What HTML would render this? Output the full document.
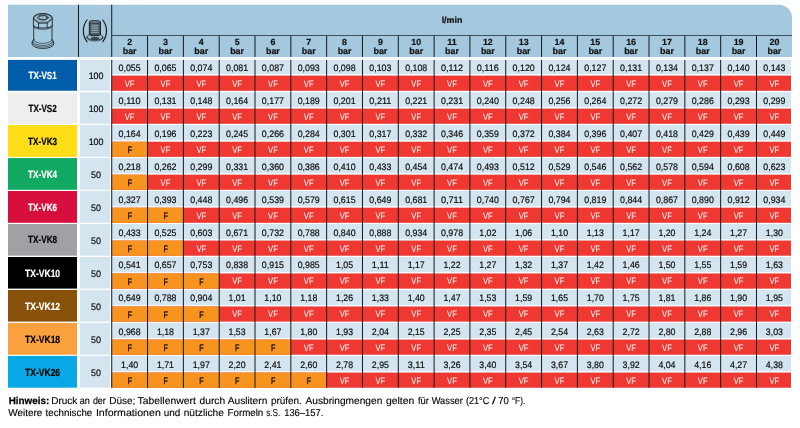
<!DOCTYPE html>
<html lang="de"><head><meta charset="utf-8"><title>TX-VS / TX-VK l/min</title>
<style>html,body{margin:0;padding:0;background:#fff}body{width:800px;height:428px;overflow:hidden}svg{display:block}text{font-family:"Liberation Sans", sans-serif;text-rendering:geometricPrecision}.b{font-weight:700}.v{font-size:9.4px;fill:#0a0a0a;stroke:#0a0a0a;stroke-width:.18px}.s{font-size:9.3px}.n{font-size:10.4px;font-weight:700}.h{font-size:8.9px;font-weight:700;fill:#111;stroke:#111;stroke-width:.2px}.f{font-size:10px;fill:#000;stroke:#000;stroke-width:.12px}.f .b{stroke-width:.25px}</style></head><body>
<svg width="800" height="428" viewBox="0 0 800 428">
<rect width="800" height="428" fill="#fff"/>
<path d="M8.0 4.75H779.0A13 13 0 0 1 792.0 17.75V56.9H8.0Z" fill="#A4C8DE"/>
<rect x="8.0" y="59.90" width="69.00" height="30.85" fill="#005DA9"/>
<rect x="80" y="59.90" width="30.2" height="30.85" fill="#D4E5F0"/>
<rect x="111.73" y="59.90" width="679.27" height="30.85" fill="#D4E5F0"/>
<rect x="111.73" y="74.05" width="679.27" height="1.7" fill="#F5F9FC"/>
<rect x="111.73" y="75.65" width="679.27" height="15.1" fill="#EF3831"/>
<rect x="8.0" y="92.30" width="69.00" height="31.45" fill="#EEEEEE"/>
<rect x="80" y="92.30" width="30.2" height="31.45" fill="#D4E5F0"/>
<rect x="111.73" y="92.30" width="679.27" height="31.45" fill="#D4E5F0"/>
<rect x="111.73" y="107.05" width="679.27" height="1.7" fill="#F5F9FC"/>
<rect x="111.73" y="108.65" width="679.27" height="15.1" fill="#EF3831"/>
<rect x="8.0" y="125.00" width="69.00" height="31.85" fill="#FFDD17"/>
<rect x="80" y="125.00" width="30.2" height="31.85" fill="#D4E5F0"/>
<rect x="111.73" y="125.00" width="679.27" height="31.85" fill="#D4E5F0"/>
<rect x="111.73" y="140.15" width="679.27" height="1.7" fill="#F5F9FC"/>
<rect x="111.73" y="141.75" width="679.27" height="15.1" fill="#EF3831"/>
<rect x="111.73" y="141.75" width="35.82" height="15.1" fill="#F7931F"/>
<rect x="8.0" y="158.05" width="69.00" height="31.75" fill="#12A963"/>
<rect x="80" y="158.05" width="30.2" height="31.75" fill="#D4E5F0"/>
<rect x="111.73" y="158.05" width="679.27" height="31.75" fill="#D4E5F0"/>
<rect x="111.73" y="173.10" width="679.27" height="1.7" fill="#F5F9FC"/>
<rect x="111.73" y="174.70" width="679.27" height="15.1" fill="#EF3831"/>
<rect x="111.73" y="174.70" width="35.82" height="15.1" fill="#F7931F"/>
<rect x="8.0" y="191.00" width="69.00" height="31.80" fill="#D60F3C"/>
<rect x="80" y="191.00" width="30.2" height="31.80" fill="#D4E5F0"/>
<rect x="111.73" y="191.00" width="679.27" height="31.80" fill="#D4E5F0"/>
<rect x="111.73" y="206.10" width="679.27" height="1.7" fill="#F5F9FC"/>
<rect x="111.73" y="207.70" width="679.27" height="15.1" fill="#EF3831"/>
<rect x="111.73" y="207.70" width="71.64" height="15.1" fill="#F7931F"/>
<rect x="8.0" y="224.05" width="69.00" height="31.65" fill="#9FA1A4"/>
<rect x="80" y="224.05" width="30.2" height="31.65" fill="#D4E5F0"/>
<rect x="111.73" y="224.05" width="679.27" height="31.65" fill="#D4E5F0"/>
<rect x="111.73" y="239.00" width="679.27" height="1.7" fill="#F5F9FC"/>
<rect x="111.73" y="240.60" width="679.27" height="15.1" fill="#EF3831"/>
<rect x="111.73" y="240.60" width="71.64" height="15.1" fill="#F7931F"/>
<rect x="8.0" y="257.00" width="69.00" height="31.60" fill="#000000"/>
<rect x="80" y="257.00" width="30.2" height="31.60" fill="#D4E5F0"/>
<rect x="111.73" y="257.00" width="679.27" height="31.60" fill="#D4E5F0"/>
<rect x="111.73" y="271.90" width="679.27" height="1.7" fill="#F5F9FC"/>
<rect x="111.73" y="273.50" width="679.27" height="15.1" fill="#EF3831"/>
<rect x="111.73" y="273.50" width="107.46" height="15.1" fill="#F7931F"/>
<rect x="8.0" y="290.00" width="69.00" height="31.60" fill="#88510A"/>
<rect x="80" y="290.00" width="30.2" height="31.60" fill="#D4E5F0"/>
<rect x="111.73" y="290.00" width="679.27" height="31.60" fill="#D4E5F0"/>
<rect x="111.73" y="304.90" width="679.27" height="1.7" fill="#F5F9FC"/>
<rect x="111.73" y="306.50" width="679.27" height="15.1" fill="#EF3831"/>
<rect x="111.73" y="306.50" width="107.46" height="15.1" fill="#F7931F"/>
<rect x="8.0" y="322.95" width="69.00" height="31.75" fill="#F9A03F"/>
<rect x="80" y="322.95" width="30.2" height="31.75" fill="#D4E5F0"/>
<rect x="111.73" y="322.95" width="679.27" height="31.75" fill="#D4E5F0"/>
<rect x="111.73" y="338.00" width="679.27" height="1.7" fill="#F5F9FC"/>
<rect x="111.73" y="339.60" width="679.27" height="15.1" fill="#EF3831"/>
<rect x="111.73" y="339.60" width="179.10" height="15.1" fill="#F7931F"/>
<rect x="8.0" y="355.90" width="69.00" height="31.80" fill="#07A8E5"/>
<rect x="80" y="355.90" width="30.2" height="31.80" fill="#D4E5F0"/>
<rect x="111.73" y="355.90" width="679.27" height="31.80" fill="#D4E5F0"/>
<rect x="111.73" y="371.00" width="679.27" height="1.7" fill="#F5F9FC"/>
<rect x="111.73" y="372.60" width="679.27" height="15.1" fill="#EF3831"/>
<rect x="111.73" y="372.60" width="214.92" height="15.1" fill="#F7931F"/>
<g stroke="#141a1f" stroke-width="1.0" fill="none">
<path d="M78.5 4.75V56.9M111.73 4.75V56.9"/>
<path d="M111.73 35.5H792.0" stroke="#2c3a45" stroke-width="0.85"/>
<path d="M147.55 35.5V56.9M183.37 35.5V56.9M219.19 35.5V56.9M255.01 35.5V56.9M290.83 35.5V56.9M326.65 35.5V56.9M362.47 35.5V56.9M398.29 35.5V56.9M434.11 35.5V56.9M469.93 35.5V56.9M505.75 35.5V56.9M541.57 35.5V56.9M577.39 35.5V56.9M613.21 35.5V56.9M649.03 35.5V56.9M684.85 35.5V56.9M720.67 35.5V56.9M756.49 35.5V56.9"/>
<path d="M111.73 59.9V387.70M147.55 59.9V387.70M183.37 59.9V387.70M219.19 59.9V387.70M255.01 59.9V387.70M290.83 59.9V387.70M326.65 59.9V387.70M362.47 59.9V387.70M398.29 59.9V387.70M434.11 59.9V387.70M469.93 59.9V387.70M505.75 59.9V387.70M541.57 59.9V387.70M577.39 59.9V387.70M613.21 59.9V387.70M649.03 59.9V387.70M684.85 59.9V387.70M720.67 59.9V387.70M756.49 59.9V387.70"/>
</g>
<text class="h" x="452" y="23" text-anchor="middle">l/min</text>
<text class="h" x="129.64" y="45" text-anchor="middle">2</text>
<text class="h" x="129.64" y="54" text-anchor="middle">bar</text>
<text class="h" x="165.46" y="45" text-anchor="middle">3</text>
<text class="h" x="165.46" y="54" text-anchor="middle">bar</text>
<text class="h" x="201.28" y="45" text-anchor="middle">4</text>
<text class="h" x="201.28" y="54" text-anchor="middle">bar</text>
<text class="h" x="237.10" y="45" text-anchor="middle">5</text>
<text class="h" x="237.10" y="54" text-anchor="middle">bar</text>
<text class="h" x="272.92" y="45" text-anchor="middle">6</text>
<text class="h" x="272.92" y="54" text-anchor="middle">bar</text>
<text class="h" x="308.74" y="45" text-anchor="middle">7</text>
<text class="h" x="308.74" y="54" text-anchor="middle">bar</text>
<text class="h" x="344.56" y="45" text-anchor="middle">8</text>
<text class="h" x="344.56" y="54" text-anchor="middle">bar</text>
<text class="h" x="380.38" y="45" text-anchor="middle">9</text>
<text class="h" x="380.38" y="54" text-anchor="middle">bar</text>
<text class="h" x="416.20" y="45" text-anchor="middle">10</text>
<text class="h" x="416.20" y="54" text-anchor="middle">bar</text>
<text class="h" x="452.02" y="45" text-anchor="middle">11</text>
<text class="h" x="452.02" y="54" text-anchor="middle">bar</text>
<text class="h" x="487.84" y="45" text-anchor="middle">12</text>
<text class="h" x="487.84" y="54" text-anchor="middle">bar</text>
<text class="h" x="523.66" y="45" text-anchor="middle">13</text>
<text class="h" x="523.66" y="54" text-anchor="middle">bar</text>
<text class="h" x="559.48" y="45" text-anchor="middle">14</text>
<text class="h" x="559.48" y="54" text-anchor="middle">bar</text>
<text class="h" x="595.30" y="45" text-anchor="middle">15</text>
<text class="h" x="595.30" y="54" text-anchor="middle">bar</text>
<text class="h" x="631.12" y="45" text-anchor="middle">16</text>
<text class="h" x="631.12" y="54" text-anchor="middle">bar</text>
<text class="h" x="666.94" y="45" text-anchor="middle">17</text>
<text class="h" x="666.94" y="54" text-anchor="middle">bar</text>
<text class="h" x="702.76" y="45" text-anchor="middle">18</text>
<text class="h" x="702.76" y="54" text-anchor="middle">bar</text>
<text class="h" x="738.58" y="45" text-anchor="middle">19</text>
<text class="h" x="738.58" y="54" text-anchor="middle">bar</text>
<text class="h" x="774.40" y="45" text-anchor="middle">20</text>
<text class="h" x="774.40" y="54" text-anchor="middle">bar</text>
<text class="n" x="42.6" y="79.45" text-anchor="middle" fill="#fff" stroke="#fff" stroke-width="0.2" textLength="28.2" lengthAdjust="spacingAndGlyphs">TX-VS1</text>
<text class="v" x="96.1" y="79.15" text-anchor="middle" textLength="14.9" lengthAdjust="spacingAndGlyphs">100</text>
<text class="v" x="129.64" y="70.60" text-anchor="middle" textLength="22.1" lengthAdjust="spacingAndGlyphs">0,055</text>
<text class="s" x="129.64" y="86.60" text-anchor="middle" fill="#fff" textLength="9.8" lengthAdjust="spacingAndGlyphs">VF</text>
<text class="v" x="165.46" y="70.60" text-anchor="middle" textLength="22.1" lengthAdjust="spacingAndGlyphs">0,065</text>
<text class="s" x="165.46" y="86.60" text-anchor="middle" fill="#fff" textLength="9.8" lengthAdjust="spacingAndGlyphs">VF</text>
<text class="v" x="201.28" y="70.60" text-anchor="middle" textLength="22.1" lengthAdjust="spacingAndGlyphs">0,074</text>
<text class="s" x="201.28" y="86.60" text-anchor="middle" fill="#fff" textLength="9.8" lengthAdjust="spacingAndGlyphs">VF</text>
<text class="v" x="237.10" y="70.60" text-anchor="middle" textLength="22.1" lengthAdjust="spacingAndGlyphs">0,081</text>
<text class="s" x="237.10" y="86.60" text-anchor="middle" fill="#fff" textLength="9.8" lengthAdjust="spacingAndGlyphs">VF</text>
<text class="v" x="272.92" y="70.60" text-anchor="middle" textLength="22.1" lengthAdjust="spacingAndGlyphs">0,087</text>
<text class="s" x="272.92" y="86.60" text-anchor="middle" fill="#fff" textLength="9.8" lengthAdjust="spacingAndGlyphs">VF</text>
<text class="v" x="308.74" y="70.60" text-anchor="middle" textLength="22.1" lengthAdjust="spacingAndGlyphs">0,093</text>
<text class="s" x="308.74" y="86.60" text-anchor="middle" fill="#fff" textLength="9.8" lengthAdjust="spacingAndGlyphs">VF</text>
<text class="v" x="344.56" y="70.60" text-anchor="middle" textLength="22.1" lengthAdjust="spacingAndGlyphs">0,098</text>
<text class="s" x="344.56" y="86.60" text-anchor="middle" fill="#fff" textLength="9.8" lengthAdjust="spacingAndGlyphs">VF</text>
<text class="v" x="380.38" y="70.60" text-anchor="middle" textLength="22.1" lengthAdjust="spacingAndGlyphs">0,103</text>
<text class="s" x="380.38" y="86.60" text-anchor="middle" fill="#fff" textLength="9.8" lengthAdjust="spacingAndGlyphs">VF</text>
<text class="v" x="416.20" y="70.60" text-anchor="middle" textLength="22.1" lengthAdjust="spacingAndGlyphs">0,108</text>
<text class="s" x="416.20" y="86.60" text-anchor="middle" fill="#fff" textLength="9.8" lengthAdjust="spacingAndGlyphs">VF</text>
<text class="v" x="452.02" y="70.60" text-anchor="middle" textLength="22.1" lengthAdjust="spacingAndGlyphs">0,112</text>
<text class="s" x="452.02" y="86.60" text-anchor="middle" fill="#fff" textLength="9.8" lengthAdjust="spacingAndGlyphs">VF</text>
<text class="v" x="487.84" y="70.60" text-anchor="middle" textLength="22.1" lengthAdjust="spacingAndGlyphs">0,116</text>
<text class="s" x="487.84" y="86.60" text-anchor="middle" fill="#fff" textLength="9.8" lengthAdjust="spacingAndGlyphs">VF</text>
<text class="v" x="523.66" y="70.60" text-anchor="middle" textLength="22.1" lengthAdjust="spacingAndGlyphs">0,120</text>
<text class="s" x="523.66" y="86.60" text-anchor="middle" fill="#fff" textLength="9.8" lengthAdjust="spacingAndGlyphs">VF</text>
<text class="v" x="559.48" y="70.60" text-anchor="middle" textLength="22.1" lengthAdjust="spacingAndGlyphs">0,124</text>
<text class="s" x="559.48" y="86.60" text-anchor="middle" fill="#fff" textLength="9.8" lengthAdjust="spacingAndGlyphs">VF</text>
<text class="v" x="595.30" y="70.60" text-anchor="middle" textLength="22.1" lengthAdjust="spacingAndGlyphs">0,127</text>
<text class="s" x="595.30" y="86.60" text-anchor="middle" fill="#fff" textLength="9.8" lengthAdjust="spacingAndGlyphs">VF</text>
<text class="v" x="631.12" y="70.60" text-anchor="middle" textLength="22.1" lengthAdjust="spacingAndGlyphs">0,131</text>
<text class="s" x="631.12" y="86.60" text-anchor="middle" fill="#fff" textLength="9.8" lengthAdjust="spacingAndGlyphs">VF</text>
<text class="v" x="666.94" y="70.60" text-anchor="middle" textLength="22.1" lengthAdjust="spacingAndGlyphs">0,134</text>
<text class="s" x="666.94" y="86.60" text-anchor="middle" fill="#fff" textLength="9.8" lengthAdjust="spacingAndGlyphs">VF</text>
<text class="v" x="702.76" y="70.60" text-anchor="middle" textLength="22.1" lengthAdjust="spacingAndGlyphs">0,137</text>
<text class="s" x="702.76" y="86.60" text-anchor="middle" fill="#fff" textLength="9.8" lengthAdjust="spacingAndGlyphs">VF</text>
<text class="v" x="738.58" y="70.60" text-anchor="middle" textLength="22.1" lengthAdjust="spacingAndGlyphs">0,140</text>
<text class="s" x="738.58" y="86.60" text-anchor="middle" fill="#fff" textLength="9.8" lengthAdjust="spacingAndGlyphs">VF</text>
<text class="v" x="774.40" y="70.60" text-anchor="middle" textLength="22.1" lengthAdjust="spacingAndGlyphs">0,143</text>
<text class="s" x="774.40" y="86.60" text-anchor="middle" fill="#fff" textLength="9.8" lengthAdjust="spacingAndGlyphs">VF</text>
<text class="n" x="42.6" y="112.45" text-anchor="middle" fill="#000" stroke="#000" stroke-width="0.2" textLength="28.2" lengthAdjust="spacingAndGlyphs">TX-VS2</text>
<text class="v" x="96.1" y="112.15" text-anchor="middle" textLength="14.9" lengthAdjust="spacingAndGlyphs">100</text>
<text class="v" x="129.64" y="103.60" text-anchor="middle" textLength="22.1" lengthAdjust="spacingAndGlyphs">0,110</text>
<text class="s" x="129.64" y="119.60" text-anchor="middle" fill="#fff" textLength="9.8" lengthAdjust="spacingAndGlyphs">VF</text>
<text class="v" x="165.46" y="103.60" text-anchor="middle" textLength="22.1" lengthAdjust="spacingAndGlyphs">0,131</text>
<text class="s" x="165.46" y="119.60" text-anchor="middle" fill="#fff" textLength="9.8" lengthAdjust="spacingAndGlyphs">VF</text>
<text class="v" x="201.28" y="103.60" text-anchor="middle" textLength="22.1" lengthAdjust="spacingAndGlyphs">0,148</text>
<text class="s" x="201.28" y="119.60" text-anchor="middle" fill="#fff" textLength="9.8" lengthAdjust="spacingAndGlyphs">VF</text>
<text class="v" x="237.10" y="103.60" text-anchor="middle" textLength="22.1" lengthAdjust="spacingAndGlyphs">0,164</text>
<text class="s" x="237.10" y="119.60" text-anchor="middle" fill="#fff" textLength="9.8" lengthAdjust="spacingAndGlyphs">VF</text>
<text class="v" x="272.92" y="103.60" text-anchor="middle" textLength="22.1" lengthAdjust="spacingAndGlyphs">0,177</text>
<text class="s" x="272.92" y="119.60" text-anchor="middle" fill="#fff" textLength="9.8" lengthAdjust="spacingAndGlyphs">VF</text>
<text class="v" x="308.74" y="103.60" text-anchor="middle" textLength="22.1" lengthAdjust="spacingAndGlyphs">0,189</text>
<text class="s" x="308.74" y="119.60" text-anchor="middle" fill="#fff" textLength="9.8" lengthAdjust="spacingAndGlyphs">VF</text>
<text class="v" x="344.56" y="103.60" text-anchor="middle" textLength="22.1" lengthAdjust="spacingAndGlyphs">0,201</text>
<text class="s" x="344.56" y="119.60" text-anchor="middle" fill="#fff" textLength="9.8" lengthAdjust="spacingAndGlyphs">VF</text>
<text class="v" x="380.38" y="103.60" text-anchor="middle" textLength="22.1" lengthAdjust="spacingAndGlyphs">0,211</text>
<text class="s" x="380.38" y="119.60" text-anchor="middle" fill="#fff" textLength="9.8" lengthAdjust="spacingAndGlyphs">VF</text>
<text class="v" x="416.20" y="103.60" text-anchor="middle" textLength="22.1" lengthAdjust="spacingAndGlyphs">0,221</text>
<text class="s" x="416.20" y="119.60" text-anchor="middle" fill="#fff" textLength="9.8" lengthAdjust="spacingAndGlyphs">VF</text>
<text class="v" x="452.02" y="103.60" text-anchor="middle" textLength="22.1" lengthAdjust="spacingAndGlyphs">0,231</text>
<text class="s" x="452.02" y="119.60" text-anchor="middle" fill="#fff" textLength="9.8" lengthAdjust="spacingAndGlyphs">VF</text>
<text class="v" x="487.84" y="103.60" text-anchor="middle" textLength="22.1" lengthAdjust="spacingAndGlyphs">0,240</text>
<text class="s" x="487.84" y="119.60" text-anchor="middle" fill="#fff" textLength="9.8" lengthAdjust="spacingAndGlyphs">VF</text>
<text class="v" x="523.66" y="103.60" text-anchor="middle" textLength="22.1" lengthAdjust="spacingAndGlyphs">0,248</text>
<text class="s" x="523.66" y="119.60" text-anchor="middle" fill="#fff" textLength="9.8" lengthAdjust="spacingAndGlyphs">VF</text>
<text class="v" x="559.48" y="103.60" text-anchor="middle" textLength="22.1" lengthAdjust="spacingAndGlyphs">0,256</text>
<text class="s" x="559.48" y="119.60" text-anchor="middle" fill="#fff" textLength="9.8" lengthAdjust="spacingAndGlyphs">VF</text>
<text class="v" x="595.30" y="103.60" text-anchor="middle" textLength="22.1" lengthAdjust="spacingAndGlyphs">0,264</text>
<text class="s" x="595.30" y="119.60" text-anchor="middle" fill="#fff" textLength="9.8" lengthAdjust="spacingAndGlyphs">VF</text>
<text class="v" x="631.12" y="103.60" text-anchor="middle" textLength="22.1" lengthAdjust="spacingAndGlyphs">0,272</text>
<text class="s" x="631.12" y="119.60" text-anchor="middle" fill="#fff" textLength="9.8" lengthAdjust="spacingAndGlyphs">VF</text>
<text class="v" x="666.94" y="103.60" text-anchor="middle" textLength="22.1" lengthAdjust="spacingAndGlyphs">0,279</text>
<text class="s" x="666.94" y="119.60" text-anchor="middle" fill="#fff" textLength="9.8" lengthAdjust="spacingAndGlyphs">VF</text>
<text class="v" x="702.76" y="103.60" text-anchor="middle" textLength="22.1" lengthAdjust="spacingAndGlyphs">0,286</text>
<text class="s" x="702.76" y="119.60" text-anchor="middle" fill="#fff" textLength="9.8" lengthAdjust="spacingAndGlyphs">VF</text>
<text class="v" x="738.58" y="103.60" text-anchor="middle" textLength="22.1" lengthAdjust="spacingAndGlyphs">0,293</text>
<text class="s" x="738.58" y="119.60" text-anchor="middle" fill="#fff" textLength="9.8" lengthAdjust="spacingAndGlyphs">VF</text>
<text class="v" x="774.40" y="103.60" text-anchor="middle" textLength="22.1" lengthAdjust="spacingAndGlyphs">0,299</text>
<text class="s" x="774.40" y="119.60" text-anchor="middle" fill="#fff" textLength="9.8" lengthAdjust="spacingAndGlyphs">VF</text>
<text class="n" x="42.6" y="144.85" text-anchor="middle" fill="#000" stroke="#000" stroke-width="0.2" textLength="29.0" lengthAdjust="spacingAndGlyphs">TX-VK3</text>
<text class="v" x="96.1" y="145.05" text-anchor="middle" textLength="14.9" lengthAdjust="spacingAndGlyphs">100</text>
<text class="v" x="129.64" y="136.70" text-anchor="middle" textLength="22.1" lengthAdjust="spacingAndGlyphs">0,164</text>
<text class="s" x="129.84" y="152.80" text-anchor="middle" fill="#000" stroke="#000" stroke-width="0.25" textLength="4.4" lengthAdjust="spacingAndGlyphs">F</text>
<text class="v" x="165.46" y="136.70" text-anchor="middle" textLength="22.1" lengthAdjust="spacingAndGlyphs">0,196</text>
<text class="s" x="165.46" y="152.70" text-anchor="middle" fill="#fff" textLength="9.8" lengthAdjust="spacingAndGlyphs">VF</text>
<text class="v" x="201.28" y="136.70" text-anchor="middle" textLength="22.1" lengthAdjust="spacingAndGlyphs">0,223</text>
<text class="s" x="201.28" y="152.70" text-anchor="middle" fill="#fff" textLength="9.8" lengthAdjust="spacingAndGlyphs">VF</text>
<text class="v" x="237.10" y="136.70" text-anchor="middle" textLength="22.1" lengthAdjust="spacingAndGlyphs">0,245</text>
<text class="s" x="237.10" y="152.70" text-anchor="middle" fill="#fff" textLength="9.8" lengthAdjust="spacingAndGlyphs">VF</text>
<text class="v" x="272.92" y="136.70" text-anchor="middle" textLength="22.1" lengthAdjust="spacingAndGlyphs">0,266</text>
<text class="s" x="272.92" y="152.70" text-anchor="middle" fill="#fff" textLength="9.8" lengthAdjust="spacingAndGlyphs">VF</text>
<text class="v" x="308.74" y="136.70" text-anchor="middle" textLength="22.1" lengthAdjust="spacingAndGlyphs">0,284</text>
<text class="s" x="308.74" y="152.70" text-anchor="middle" fill="#fff" textLength="9.8" lengthAdjust="spacingAndGlyphs">VF</text>
<text class="v" x="344.56" y="136.70" text-anchor="middle" textLength="22.1" lengthAdjust="spacingAndGlyphs">0,301</text>
<text class="s" x="344.56" y="152.70" text-anchor="middle" fill="#fff" textLength="9.8" lengthAdjust="spacingAndGlyphs">VF</text>
<text class="v" x="380.38" y="136.70" text-anchor="middle" textLength="22.1" lengthAdjust="spacingAndGlyphs">0,317</text>
<text class="s" x="380.38" y="152.70" text-anchor="middle" fill="#fff" textLength="9.8" lengthAdjust="spacingAndGlyphs">VF</text>
<text class="v" x="416.20" y="136.70" text-anchor="middle" textLength="22.1" lengthAdjust="spacingAndGlyphs">0,332</text>
<text class="s" x="416.20" y="152.70" text-anchor="middle" fill="#fff" textLength="9.8" lengthAdjust="spacingAndGlyphs">VF</text>
<text class="v" x="452.02" y="136.70" text-anchor="middle" textLength="22.1" lengthAdjust="spacingAndGlyphs">0,346</text>
<text class="s" x="452.02" y="152.70" text-anchor="middle" fill="#fff" textLength="9.8" lengthAdjust="spacingAndGlyphs">VF</text>
<text class="v" x="487.84" y="136.70" text-anchor="middle" textLength="22.1" lengthAdjust="spacingAndGlyphs">0,359</text>
<text class="s" x="487.84" y="152.70" text-anchor="middle" fill="#fff" textLength="9.8" lengthAdjust="spacingAndGlyphs">VF</text>
<text class="v" x="523.66" y="136.70" text-anchor="middle" textLength="22.1" lengthAdjust="spacingAndGlyphs">0,372</text>
<text class="s" x="523.66" y="152.70" text-anchor="middle" fill="#fff" textLength="9.8" lengthAdjust="spacingAndGlyphs">VF</text>
<text class="v" x="559.48" y="136.70" text-anchor="middle" textLength="22.1" lengthAdjust="spacingAndGlyphs">0,384</text>
<text class="s" x="559.48" y="152.70" text-anchor="middle" fill="#fff" textLength="9.8" lengthAdjust="spacingAndGlyphs">VF</text>
<text class="v" x="595.30" y="136.70" text-anchor="middle" textLength="22.1" lengthAdjust="spacingAndGlyphs">0,396</text>
<text class="s" x="595.30" y="152.70" text-anchor="middle" fill="#fff" textLength="9.8" lengthAdjust="spacingAndGlyphs">VF</text>
<text class="v" x="631.12" y="136.70" text-anchor="middle" textLength="22.1" lengthAdjust="spacingAndGlyphs">0,407</text>
<text class="s" x="631.12" y="152.70" text-anchor="middle" fill="#fff" textLength="9.8" lengthAdjust="spacingAndGlyphs">VF</text>
<text class="v" x="666.94" y="136.70" text-anchor="middle" textLength="22.1" lengthAdjust="spacingAndGlyphs">0,418</text>
<text class="s" x="666.94" y="152.70" text-anchor="middle" fill="#fff" textLength="9.8" lengthAdjust="spacingAndGlyphs">VF</text>
<text class="v" x="702.76" y="136.70" text-anchor="middle" textLength="22.1" lengthAdjust="spacingAndGlyphs">0,429</text>
<text class="s" x="702.76" y="152.70" text-anchor="middle" fill="#fff" textLength="9.8" lengthAdjust="spacingAndGlyphs">VF</text>
<text class="v" x="738.58" y="136.70" text-anchor="middle" textLength="22.1" lengthAdjust="spacingAndGlyphs">0,439</text>
<text class="s" x="738.58" y="152.70" text-anchor="middle" fill="#fff" textLength="9.8" lengthAdjust="spacingAndGlyphs">VF</text>
<text class="v" x="774.40" y="136.70" text-anchor="middle" textLength="22.1" lengthAdjust="spacingAndGlyphs">0,449</text>
<text class="s" x="774.40" y="152.70" text-anchor="middle" fill="#fff" textLength="9.8" lengthAdjust="spacingAndGlyphs">VF</text>
<text class="n" x="42.6" y="177.80" text-anchor="middle" fill="#fff" stroke="#fff" stroke-width="0.2" textLength="29.0" lengthAdjust="spacingAndGlyphs">TX-VK4</text>
<text class="v" x="96.1" y="178.00" text-anchor="middle" textLength="10.0" lengthAdjust="spacingAndGlyphs">50</text>
<text class="v" x="129.64" y="169.65" text-anchor="middle" textLength="22.1" lengthAdjust="spacingAndGlyphs">0,218</text>
<text class="s" x="129.84" y="185.75" text-anchor="middle" fill="#000" stroke="#000" stroke-width="0.25" textLength="4.4" lengthAdjust="spacingAndGlyphs">F</text>
<text class="v" x="165.46" y="169.65" text-anchor="middle" textLength="22.1" lengthAdjust="spacingAndGlyphs">0,262</text>
<text class="s" x="165.46" y="185.65" text-anchor="middle" fill="#fff" textLength="9.8" lengthAdjust="spacingAndGlyphs">VF</text>
<text class="v" x="201.28" y="169.65" text-anchor="middle" textLength="22.1" lengthAdjust="spacingAndGlyphs">0,299</text>
<text class="s" x="201.28" y="185.65" text-anchor="middle" fill="#fff" textLength="9.8" lengthAdjust="spacingAndGlyphs">VF</text>
<text class="v" x="237.10" y="169.65" text-anchor="middle" textLength="22.1" lengthAdjust="spacingAndGlyphs">0,331</text>
<text class="s" x="237.10" y="185.65" text-anchor="middle" fill="#fff" textLength="9.8" lengthAdjust="spacingAndGlyphs">VF</text>
<text class="v" x="272.92" y="169.65" text-anchor="middle" textLength="22.1" lengthAdjust="spacingAndGlyphs">0,360</text>
<text class="s" x="272.92" y="185.65" text-anchor="middle" fill="#fff" textLength="9.8" lengthAdjust="spacingAndGlyphs">VF</text>
<text class="v" x="308.74" y="169.65" text-anchor="middle" textLength="22.1" lengthAdjust="spacingAndGlyphs">0,386</text>
<text class="s" x="308.74" y="185.65" text-anchor="middle" fill="#fff" textLength="9.8" lengthAdjust="spacingAndGlyphs">VF</text>
<text class="v" x="344.56" y="169.65" text-anchor="middle" textLength="22.1" lengthAdjust="spacingAndGlyphs">0,410</text>
<text class="s" x="344.56" y="185.65" text-anchor="middle" fill="#fff" textLength="9.8" lengthAdjust="spacingAndGlyphs">VF</text>
<text class="v" x="380.38" y="169.65" text-anchor="middle" textLength="22.1" lengthAdjust="spacingAndGlyphs">0,433</text>
<text class="s" x="380.38" y="185.65" text-anchor="middle" fill="#fff" textLength="9.8" lengthAdjust="spacingAndGlyphs">VF</text>
<text class="v" x="416.20" y="169.65" text-anchor="middle" textLength="22.1" lengthAdjust="spacingAndGlyphs">0,454</text>
<text class="s" x="416.20" y="185.65" text-anchor="middle" fill="#fff" textLength="9.8" lengthAdjust="spacingAndGlyphs">VF</text>
<text class="v" x="452.02" y="169.65" text-anchor="middle" textLength="22.1" lengthAdjust="spacingAndGlyphs">0,474</text>
<text class="s" x="452.02" y="185.65" text-anchor="middle" fill="#fff" textLength="9.8" lengthAdjust="spacingAndGlyphs">VF</text>
<text class="v" x="487.84" y="169.65" text-anchor="middle" textLength="22.1" lengthAdjust="spacingAndGlyphs">0,493</text>
<text class="s" x="487.84" y="185.65" text-anchor="middle" fill="#fff" textLength="9.8" lengthAdjust="spacingAndGlyphs">VF</text>
<text class="v" x="523.66" y="169.65" text-anchor="middle" textLength="22.1" lengthAdjust="spacingAndGlyphs">0,512</text>
<text class="s" x="523.66" y="185.65" text-anchor="middle" fill="#fff" textLength="9.8" lengthAdjust="spacingAndGlyphs">VF</text>
<text class="v" x="559.48" y="169.65" text-anchor="middle" textLength="22.1" lengthAdjust="spacingAndGlyphs">0,529</text>
<text class="s" x="559.48" y="185.65" text-anchor="middle" fill="#fff" textLength="9.8" lengthAdjust="spacingAndGlyphs">VF</text>
<text class="v" x="595.30" y="169.65" text-anchor="middle" textLength="22.1" lengthAdjust="spacingAndGlyphs">0,546</text>
<text class="s" x="595.30" y="185.65" text-anchor="middle" fill="#fff" textLength="9.8" lengthAdjust="spacingAndGlyphs">VF</text>
<text class="v" x="631.12" y="169.65" text-anchor="middle" textLength="22.1" lengthAdjust="spacingAndGlyphs">0,562</text>
<text class="s" x="631.12" y="185.65" text-anchor="middle" fill="#fff" textLength="9.8" lengthAdjust="spacingAndGlyphs">VF</text>
<text class="v" x="666.94" y="169.65" text-anchor="middle" textLength="22.1" lengthAdjust="spacingAndGlyphs">0,578</text>
<text class="s" x="666.94" y="185.65" text-anchor="middle" fill="#fff" textLength="9.8" lengthAdjust="spacingAndGlyphs">VF</text>
<text class="v" x="702.76" y="169.65" text-anchor="middle" textLength="22.1" lengthAdjust="spacingAndGlyphs">0,594</text>
<text class="s" x="702.76" y="185.65" text-anchor="middle" fill="#fff" textLength="9.8" lengthAdjust="spacingAndGlyphs">VF</text>
<text class="v" x="738.58" y="169.65" text-anchor="middle" textLength="22.1" lengthAdjust="spacingAndGlyphs">0,608</text>
<text class="s" x="738.58" y="185.65" text-anchor="middle" fill="#fff" textLength="9.8" lengthAdjust="spacingAndGlyphs">VF</text>
<text class="v" x="774.40" y="169.65" text-anchor="middle" textLength="22.1" lengthAdjust="spacingAndGlyphs">0,623</text>
<text class="s" x="774.40" y="185.65" text-anchor="middle" fill="#fff" textLength="9.8" lengthAdjust="spacingAndGlyphs">VF</text>
<text class="n" x="42.6" y="210.90" text-anchor="middle" fill="#fff" stroke="#fff" stroke-width="0.2" textLength="29.0" lengthAdjust="spacingAndGlyphs">TX-VK6</text>
<text class="v" x="96.1" y="211.00" text-anchor="middle" textLength="10.0" lengthAdjust="spacingAndGlyphs">50</text>
<text class="v" x="129.64" y="202.65" text-anchor="middle" textLength="22.1" lengthAdjust="spacingAndGlyphs">0,327</text>
<text class="s" x="129.84" y="218.75" text-anchor="middle" fill="#000" stroke="#000" stroke-width="0.25" textLength="4.4" lengthAdjust="spacingAndGlyphs">F</text>
<text class="v" x="165.46" y="202.65" text-anchor="middle" textLength="22.1" lengthAdjust="spacingAndGlyphs">0,393</text>
<text class="s" x="165.66" y="218.75" text-anchor="middle" fill="#000" stroke="#000" stroke-width="0.25" textLength="4.4" lengthAdjust="spacingAndGlyphs">F</text>
<text class="v" x="201.28" y="202.65" text-anchor="middle" textLength="22.1" lengthAdjust="spacingAndGlyphs">0,448</text>
<text class="s" x="201.28" y="218.65" text-anchor="middle" fill="#fff" textLength="9.8" lengthAdjust="spacingAndGlyphs">VF</text>
<text class="v" x="237.10" y="202.65" text-anchor="middle" textLength="22.1" lengthAdjust="spacingAndGlyphs">0,496</text>
<text class="s" x="237.10" y="218.65" text-anchor="middle" fill="#fff" textLength="9.8" lengthAdjust="spacingAndGlyphs">VF</text>
<text class="v" x="272.92" y="202.65" text-anchor="middle" textLength="22.1" lengthAdjust="spacingAndGlyphs">0,539</text>
<text class="s" x="272.92" y="218.65" text-anchor="middle" fill="#fff" textLength="9.8" lengthAdjust="spacingAndGlyphs">VF</text>
<text class="v" x="308.74" y="202.65" text-anchor="middle" textLength="22.1" lengthAdjust="spacingAndGlyphs">0,579</text>
<text class="s" x="308.74" y="218.65" text-anchor="middle" fill="#fff" textLength="9.8" lengthAdjust="spacingAndGlyphs">VF</text>
<text class="v" x="344.56" y="202.65" text-anchor="middle" textLength="22.1" lengthAdjust="spacingAndGlyphs">0,615</text>
<text class="s" x="344.56" y="218.65" text-anchor="middle" fill="#fff" textLength="9.8" lengthAdjust="spacingAndGlyphs">VF</text>
<text class="v" x="380.38" y="202.65" text-anchor="middle" textLength="22.1" lengthAdjust="spacingAndGlyphs">0,649</text>
<text class="s" x="380.38" y="218.65" text-anchor="middle" fill="#fff" textLength="9.8" lengthAdjust="spacingAndGlyphs">VF</text>
<text class="v" x="416.20" y="202.65" text-anchor="middle" textLength="22.1" lengthAdjust="spacingAndGlyphs">0,681</text>
<text class="s" x="416.20" y="218.65" text-anchor="middle" fill="#fff" textLength="9.8" lengthAdjust="spacingAndGlyphs">VF</text>
<text class="v" x="452.02" y="202.65" text-anchor="middle" textLength="22.1" lengthAdjust="spacingAndGlyphs">0,711</text>
<text class="s" x="452.02" y="218.65" text-anchor="middle" fill="#fff" textLength="9.8" lengthAdjust="spacingAndGlyphs">VF</text>
<text class="v" x="487.84" y="202.65" text-anchor="middle" textLength="22.1" lengthAdjust="spacingAndGlyphs">0,740</text>
<text class="s" x="487.84" y="218.65" text-anchor="middle" fill="#fff" textLength="9.8" lengthAdjust="spacingAndGlyphs">VF</text>
<text class="v" x="523.66" y="202.65" text-anchor="middle" textLength="22.1" lengthAdjust="spacingAndGlyphs">0,767</text>
<text class="s" x="523.66" y="218.65" text-anchor="middle" fill="#fff" textLength="9.8" lengthAdjust="spacingAndGlyphs">VF</text>
<text class="v" x="559.48" y="202.65" text-anchor="middle" textLength="22.1" lengthAdjust="spacingAndGlyphs">0,794</text>
<text class="s" x="559.48" y="218.65" text-anchor="middle" fill="#fff" textLength="9.8" lengthAdjust="spacingAndGlyphs">VF</text>
<text class="v" x="595.30" y="202.65" text-anchor="middle" textLength="22.1" lengthAdjust="spacingAndGlyphs">0,819</text>
<text class="s" x="595.30" y="218.65" text-anchor="middle" fill="#fff" textLength="9.8" lengthAdjust="spacingAndGlyphs">VF</text>
<text class="v" x="631.12" y="202.65" text-anchor="middle" textLength="22.1" lengthAdjust="spacingAndGlyphs">0,844</text>
<text class="s" x="631.12" y="218.65" text-anchor="middle" fill="#fff" textLength="9.8" lengthAdjust="spacingAndGlyphs">VF</text>
<text class="v" x="666.94" y="202.65" text-anchor="middle" textLength="22.1" lengthAdjust="spacingAndGlyphs">0,867</text>
<text class="s" x="666.94" y="218.65" text-anchor="middle" fill="#fff" textLength="9.8" lengthAdjust="spacingAndGlyphs">VF</text>
<text class="v" x="702.76" y="202.65" text-anchor="middle" textLength="22.1" lengthAdjust="spacingAndGlyphs">0,890</text>
<text class="s" x="702.76" y="218.65" text-anchor="middle" fill="#fff" textLength="9.8" lengthAdjust="spacingAndGlyphs">VF</text>
<text class="v" x="738.58" y="202.65" text-anchor="middle" textLength="22.1" lengthAdjust="spacingAndGlyphs">0,912</text>
<text class="s" x="738.58" y="218.65" text-anchor="middle" fill="#fff" textLength="9.8" lengthAdjust="spacingAndGlyphs">VF</text>
<text class="v" x="774.40" y="202.65" text-anchor="middle" textLength="22.1" lengthAdjust="spacingAndGlyphs">0,934</text>
<text class="s" x="774.40" y="218.65" text-anchor="middle" fill="#fff" textLength="9.8" lengthAdjust="spacingAndGlyphs">VF</text>
<text class="n" x="42.6" y="243.00" text-anchor="middle" fill="#000" stroke="#000" stroke-width="0.2" textLength="29.0" lengthAdjust="spacingAndGlyphs">TX-VK8</text>
<text class="v" x="96.1" y="243.50" text-anchor="middle" textLength="10.0" lengthAdjust="spacingAndGlyphs">50</text>
<text class="v" x="129.64" y="235.55" text-anchor="middle" textLength="22.1" lengthAdjust="spacingAndGlyphs">0,433</text>
<text class="s" x="129.84" y="251.65" text-anchor="middle" fill="#000" stroke="#000" stroke-width="0.25" textLength="4.4" lengthAdjust="spacingAndGlyphs">F</text>
<text class="v" x="165.46" y="235.55" text-anchor="middle" textLength="22.1" lengthAdjust="spacingAndGlyphs">0,525</text>
<text class="s" x="165.66" y="251.65" text-anchor="middle" fill="#000" stroke="#000" stroke-width="0.25" textLength="4.4" lengthAdjust="spacingAndGlyphs">F</text>
<text class="v" x="201.28" y="235.55" text-anchor="middle" textLength="22.1" lengthAdjust="spacingAndGlyphs">0,603</text>
<text class="s" x="201.28" y="251.55" text-anchor="middle" fill="#fff" textLength="9.8" lengthAdjust="spacingAndGlyphs">VF</text>
<text class="v" x="237.10" y="235.55" text-anchor="middle" textLength="22.1" lengthAdjust="spacingAndGlyphs">0,671</text>
<text class="s" x="237.10" y="251.55" text-anchor="middle" fill="#fff" textLength="9.8" lengthAdjust="spacingAndGlyphs">VF</text>
<text class="v" x="272.92" y="235.55" text-anchor="middle" textLength="22.1" lengthAdjust="spacingAndGlyphs">0,732</text>
<text class="s" x="272.92" y="251.55" text-anchor="middle" fill="#fff" textLength="9.8" lengthAdjust="spacingAndGlyphs">VF</text>
<text class="v" x="308.74" y="235.55" text-anchor="middle" textLength="22.1" lengthAdjust="spacingAndGlyphs">0,788</text>
<text class="s" x="308.74" y="251.55" text-anchor="middle" fill="#fff" textLength="9.8" lengthAdjust="spacingAndGlyphs">VF</text>
<text class="v" x="344.56" y="235.55" text-anchor="middle" textLength="22.1" lengthAdjust="spacingAndGlyphs">0,840</text>
<text class="s" x="344.56" y="251.55" text-anchor="middle" fill="#fff" textLength="9.8" lengthAdjust="spacingAndGlyphs">VF</text>
<text class="v" x="380.38" y="235.55" text-anchor="middle" textLength="22.1" lengthAdjust="spacingAndGlyphs">0,888</text>
<text class="s" x="380.38" y="251.55" text-anchor="middle" fill="#fff" textLength="9.8" lengthAdjust="spacingAndGlyphs">VF</text>
<text class="v" x="416.20" y="235.55" text-anchor="middle" textLength="22.1" lengthAdjust="spacingAndGlyphs">0,934</text>
<text class="s" x="416.20" y="251.55" text-anchor="middle" fill="#fff" textLength="9.8" lengthAdjust="spacingAndGlyphs">VF</text>
<text class="v" x="452.02" y="235.55" text-anchor="middle" textLength="22.1" lengthAdjust="spacingAndGlyphs">0,978</text>
<text class="s" x="452.02" y="251.55" text-anchor="middle" fill="#fff" textLength="9.8" lengthAdjust="spacingAndGlyphs">VF</text>
<text class="v" x="487.84" y="235.55" text-anchor="middle" textLength="17.1" lengthAdjust="spacingAndGlyphs">1,02</text>
<text class="s" x="487.84" y="251.55" text-anchor="middle" fill="#fff" textLength="9.8" lengthAdjust="spacingAndGlyphs">VF</text>
<text class="v" x="523.66" y="235.55" text-anchor="middle" textLength="17.1" lengthAdjust="spacingAndGlyphs">1,06</text>
<text class="s" x="523.66" y="251.55" text-anchor="middle" fill="#fff" textLength="9.8" lengthAdjust="spacingAndGlyphs">VF</text>
<text class="v" x="559.48" y="235.55" text-anchor="middle" textLength="17.1" lengthAdjust="spacingAndGlyphs">1,10</text>
<text class="s" x="559.48" y="251.55" text-anchor="middle" fill="#fff" textLength="9.8" lengthAdjust="spacingAndGlyphs">VF</text>
<text class="v" x="595.30" y="235.55" text-anchor="middle" textLength="17.1" lengthAdjust="spacingAndGlyphs">1,13</text>
<text class="s" x="595.30" y="251.55" text-anchor="middle" fill="#fff" textLength="9.8" lengthAdjust="spacingAndGlyphs">VF</text>
<text class="v" x="631.12" y="235.55" text-anchor="middle" textLength="17.1" lengthAdjust="spacingAndGlyphs">1,17</text>
<text class="s" x="631.12" y="251.55" text-anchor="middle" fill="#fff" textLength="9.8" lengthAdjust="spacingAndGlyphs">VF</text>
<text class="v" x="666.94" y="235.55" text-anchor="middle" textLength="17.1" lengthAdjust="spacingAndGlyphs">1,20</text>
<text class="s" x="666.94" y="251.55" text-anchor="middle" fill="#fff" textLength="9.8" lengthAdjust="spacingAndGlyphs">VF</text>
<text class="v" x="702.76" y="235.55" text-anchor="middle" textLength="17.1" lengthAdjust="spacingAndGlyphs">1,24</text>
<text class="s" x="702.76" y="251.55" text-anchor="middle" fill="#fff" textLength="9.8" lengthAdjust="spacingAndGlyphs">VF</text>
<text class="v" x="738.58" y="235.55" text-anchor="middle" textLength="17.1" lengthAdjust="spacingAndGlyphs">1,27</text>
<text class="s" x="738.58" y="251.55" text-anchor="middle" fill="#fff" textLength="9.8" lengthAdjust="spacingAndGlyphs">VF</text>
<text class="v" x="774.40" y="235.55" text-anchor="middle" textLength="17.1" lengthAdjust="spacingAndGlyphs">1,30</text>
<text class="s" x="774.40" y="251.55" text-anchor="middle" fill="#fff" textLength="9.8" lengthAdjust="spacingAndGlyphs">VF</text>
<text class="n" x="42.6" y="277.30" text-anchor="middle" fill="#fff" stroke="#fff" stroke-width="0.2" textLength="35.0" lengthAdjust="spacingAndGlyphs">TX-VK10</text>
<text class="v" x="96.1" y="277.00" text-anchor="middle" textLength="10.0" lengthAdjust="spacingAndGlyphs">50</text>
<text class="v" x="129.64" y="268.45" text-anchor="middle" textLength="22.1" lengthAdjust="spacingAndGlyphs">0,541</text>
<text class="s" x="129.84" y="284.55" text-anchor="middle" fill="#000" stroke="#000" stroke-width="0.25" textLength="4.4" lengthAdjust="spacingAndGlyphs">F</text>
<text class="v" x="165.46" y="268.45" text-anchor="middle" textLength="22.1" lengthAdjust="spacingAndGlyphs">0,657</text>
<text class="s" x="165.66" y="284.55" text-anchor="middle" fill="#000" stroke="#000" stroke-width="0.25" textLength="4.4" lengthAdjust="spacingAndGlyphs">F</text>
<text class="v" x="201.28" y="268.45" text-anchor="middle" textLength="22.1" lengthAdjust="spacingAndGlyphs">0,753</text>
<text class="s" x="201.48" y="284.55" text-anchor="middle" fill="#000" stroke="#000" stroke-width="0.25" textLength="4.4" lengthAdjust="spacingAndGlyphs">F</text>
<text class="v" x="237.10" y="268.45" text-anchor="middle" textLength="22.1" lengthAdjust="spacingAndGlyphs">0,838</text>
<text class="s" x="237.10" y="284.45" text-anchor="middle" fill="#fff" textLength="9.8" lengthAdjust="spacingAndGlyphs">VF</text>
<text class="v" x="272.92" y="268.45" text-anchor="middle" textLength="22.1" lengthAdjust="spacingAndGlyphs">0,915</text>
<text class="s" x="272.92" y="284.45" text-anchor="middle" fill="#fff" textLength="9.8" lengthAdjust="spacingAndGlyphs">VF</text>
<text class="v" x="308.74" y="268.45" text-anchor="middle" textLength="22.1" lengthAdjust="spacingAndGlyphs">0,985</text>
<text class="s" x="308.74" y="284.45" text-anchor="middle" fill="#fff" textLength="9.8" lengthAdjust="spacingAndGlyphs">VF</text>
<text class="v" x="344.56" y="268.45" text-anchor="middle" textLength="17.1" lengthAdjust="spacingAndGlyphs">1,05</text>
<text class="s" x="344.56" y="284.45" text-anchor="middle" fill="#fff" textLength="9.8" lengthAdjust="spacingAndGlyphs">VF</text>
<text class="v" x="380.38" y="268.45" text-anchor="middle" textLength="17.1" lengthAdjust="spacingAndGlyphs">1,11</text>
<text class="s" x="380.38" y="284.45" text-anchor="middle" fill="#fff" textLength="9.8" lengthAdjust="spacingAndGlyphs">VF</text>
<text class="v" x="416.20" y="268.45" text-anchor="middle" textLength="17.1" lengthAdjust="spacingAndGlyphs">1,17</text>
<text class="s" x="416.20" y="284.45" text-anchor="middle" fill="#fff" textLength="9.8" lengthAdjust="spacingAndGlyphs">VF</text>
<text class="v" x="452.02" y="268.45" text-anchor="middle" textLength="17.1" lengthAdjust="spacingAndGlyphs">1,22</text>
<text class="s" x="452.02" y="284.45" text-anchor="middle" fill="#fff" textLength="9.8" lengthAdjust="spacingAndGlyphs">VF</text>
<text class="v" x="487.84" y="268.45" text-anchor="middle" textLength="17.1" lengthAdjust="spacingAndGlyphs">1,27</text>
<text class="s" x="487.84" y="284.45" text-anchor="middle" fill="#fff" textLength="9.8" lengthAdjust="spacingAndGlyphs">VF</text>
<text class="v" x="523.66" y="268.45" text-anchor="middle" textLength="17.1" lengthAdjust="spacingAndGlyphs">1,32</text>
<text class="s" x="523.66" y="284.45" text-anchor="middle" fill="#fff" textLength="9.8" lengthAdjust="spacingAndGlyphs">VF</text>
<text class="v" x="559.48" y="268.45" text-anchor="middle" textLength="17.1" lengthAdjust="spacingAndGlyphs">1,37</text>
<text class="s" x="559.48" y="284.45" text-anchor="middle" fill="#fff" textLength="9.8" lengthAdjust="spacingAndGlyphs">VF</text>
<text class="v" x="595.30" y="268.45" text-anchor="middle" textLength="17.1" lengthAdjust="spacingAndGlyphs">1,42</text>
<text class="s" x="595.30" y="284.45" text-anchor="middle" fill="#fff" textLength="9.8" lengthAdjust="spacingAndGlyphs">VF</text>
<text class="v" x="631.12" y="268.45" text-anchor="middle" textLength="17.1" lengthAdjust="spacingAndGlyphs">1,46</text>
<text class="s" x="631.12" y="284.45" text-anchor="middle" fill="#fff" textLength="9.8" lengthAdjust="spacingAndGlyphs">VF</text>
<text class="v" x="666.94" y="268.45" text-anchor="middle" textLength="17.1" lengthAdjust="spacingAndGlyphs">1,50</text>
<text class="s" x="666.94" y="284.45" text-anchor="middle" fill="#fff" textLength="9.8" lengthAdjust="spacingAndGlyphs">VF</text>
<text class="v" x="702.76" y="268.45" text-anchor="middle" textLength="17.1" lengthAdjust="spacingAndGlyphs">1,55</text>
<text class="s" x="702.76" y="284.45" text-anchor="middle" fill="#fff" textLength="9.8" lengthAdjust="spacingAndGlyphs">VF</text>
<text class="v" x="738.58" y="268.45" text-anchor="middle" textLength="17.1" lengthAdjust="spacingAndGlyphs">1,59</text>
<text class="s" x="738.58" y="284.45" text-anchor="middle" fill="#fff" textLength="9.8" lengthAdjust="spacingAndGlyphs">VF</text>
<text class="v" x="774.40" y="268.45" text-anchor="middle" textLength="17.1" lengthAdjust="spacingAndGlyphs">1,63</text>
<text class="s" x="774.40" y="284.45" text-anchor="middle" fill="#fff" textLength="9.8" lengthAdjust="spacingAndGlyphs">VF</text>
<text class="n" x="42.6" y="310.30" text-anchor="middle" fill="#fff" stroke="#fff" stroke-width="0.2" textLength="35.0" lengthAdjust="spacingAndGlyphs">TX-VK12</text>
<text class="v" x="96.1" y="310.00" text-anchor="middle" textLength="10.0" lengthAdjust="spacingAndGlyphs">50</text>
<text class="v" x="129.64" y="301.45" text-anchor="middle" textLength="22.1" lengthAdjust="spacingAndGlyphs">0,649</text>
<text class="s" x="129.84" y="317.55" text-anchor="middle" fill="#000" stroke="#000" stroke-width="0.25" textLength="4.4" lengthAdjust="spacingAndGlyphs">F</text>
<text class="v" x="165.46" y="301.45" text-anchor="middle" textLength="22.1" lengthAdjust="spacingAndGlyphs">0,788</text>
<text class="s" x="165.66" y="317.55" text-anchor="middle" fill="#000" stroke="#000" stroke-width="0.25" textLength="4.4" lengthAdjust="spacingAndGlyphs">F</text>
<text class="v" x="201.28" y="301.45" text-anchor="middle" textLength="22.1" lengthAdjust="spacingAndGlyphs">0,904</text>
<text class="s" x="201.48" y="317.55" text-anchor="middle" fill="#000" stroke="#000" stroke-width="0.25" textLength="4.4" lengthAdjust="spacingAndGlyphs">F</text>
<text class="v" x="237.10" y="301.45" text-anchor="middle" textLength="17.1" lengthAdjust="spacingAndGlyphs">1,01</text>
<text class="s" x="237.10" y="317.45" text-anchor="middle" fill="#fff" textLength="9.8" lengthAdjust="spacingAndGlyphs">VF</text>
<text class="v" x="272.92" y="301.45" text-anchor="middle" textLength="17.1" lengthAdjust="spacingAndGlyphs">1,10</text>
<text class="s" x="272.92" y="317.45" text-anchor="middle" fill="#fff" textLength="9.8" lengthAdjust="spacingAndGlyphs">VF</text>
<text class="v" x="308.74" y="301.45" text-anchor="middle" textLength="17.1" lengthAdjust="spacingAndGlyphs">1,18</text>
<text class="s" x="308.74" y="317.45" text-anchor="middle" fill="#fff" textLength="9.8" lengthAdjust="spacingAndGlyphs">VF</text>
<text class="v" x="344.56" y="301.45" text-anchor="middle" textLength="17.1" lengthAdjust="spacingAndGlyphs">1,26</text>
<text class="s" x="344.56" y="317.45" text-anchor="middle" fill="#fff" textLength="9.8" lengthAdjust="spacingAndGlyphs">VF</text>
<text class="v" x="380.38" y="301.45" text-anchor="middle" textLength="17.1" lengthAdjust="spacingAndGlyphs">1,33</text>
<text class="s" x="380.38" y="317.45" text-anchor="middle" fill="#fff" textLength="9.8" lengthAdjust="spacingAndGlyphs">VF</text>
<text class="v" x="416.20" y="301.45" text-anchor="middle" textLength="17.1" lengthAdjust="spacingAndGlyphs">1,40</text>
<text class="s" x="416.20" y="317.45" text-anchor="middle" fill="#fff" textLength="9.8" lengthAdjust="spacingAndGlyphs">VF</text>
<text class="v" x="452.02" y="301.45" text-anchor="middle" textLength="17.1" lengthAdjust="spacingAndGlyphs">1,47</text>
<text class="s" x="452.02" y="317.45" text-anchor="middle" fill="#fff" textLength="9.8" lengthAdjust="spacingAndGlyphs">VF</text>
<text class="v" x="487.84" y="301.45" text-anchor="middle" textLength="17.1" lengthAdjust="spacingAndGlyphs">1,53</text>
<text class="s" x="487.84" y="317.45" text-anchor="middle" fill="#fff" textLength="9.8" lengthAdjust="spacingAndGlyphs">VF</text>
<text class="v" x="523.66" y="301.45" text-anchor="middle" textLength="17.1" lengthAdjust="spacingAndGlyphs">1,59</text>
<text class="s" x="523.66" y="317.45" text-anchor="middle" fill="#fff" textLength="9.8" lengthAdjust="spacingAndGlyphs">VF</text>
<text class="v" x="559.48" y="301.45" text-anchor="middle" textLength="17.1" lengthAdjust="spacingAndGlyphs">1,65</text>
<text class="s" x="559.48" y="317.45" text-anchor="middle" fill="#fff" textLength="9.8" lengthAdjust="spacingAndGlyphs">VF</text>
<text class="v" x="595.30" y="301.45" text-anchor="middle" textLength="17.1" lengthAdjust="spacingAndGlyphs">1,70</text>
<text class="s" x="595.30" y="317.45" text-anchor="middle" fill="#fff" textLength="9.8" lengthAdjust="spacingAndGlyphs">VF</text>
<text class="v" x="631.12" y="301.45" text-anchor="middle" textLength="17.1" lengthAdjust="spacingAndGlyphs">1,75</text>
<text class="s" x="631.12" y="317.45" text-anchor="middle" fill="#fff" textLength="9.8" lengthAdjust="spacingAndGlyphs">VF</text>
<text class="v" x="666.94" y="301.45" text-anchor="middle" textLength="17.1" lengthAdjust="spacingAndGlyphs">1,81</text>
<text class="s" x="666.94" y="317.45" text-anchor="middle" fill="#fff" textLength="9.8" lengthAdjust="spacingAndGlyphs">VF</text>
<text class="v" x="702.76" y="301.45" text-anchor="middle" textLength="17.1" lengthAdjust="spacingAndGlyphs">1,86</text>
<text class="s" x="702.76" y="317.45" text-anchor="middle" fill="#fff" textLength="9.8" lengthAdjust="spacingAndGlyphs">VF</text>
<text class="v" x="738.58" y="301.45" text-anchor="middle" textLength="17.1" lengthAdjust="spacingAndGlyphs">1,90</text>
<text class="s" x="738.58" y="317.45" text-anchor="middle" fill="#fff" textLength="9.8" lengthAdjust="spacingAndGlyphs">VF</text>
<text class="v" x="774.40" y="301.45" text-anchor="middle" textLength="17.1" lengthAdjust="spacingAndGlyphs">1,95</text>
<text class="s" x="774.40" y="317.45" text-anchor="middle" fill="#fff" textLength="9.8" lengthAdjust="spacingAndGlyphs">VF</text>
<text class="n" x="42.6" y="343.30" text-anchor="middle" fill="#000" stroke="#000" stroke-width="0.2" textLength="35.0" lengthAdjust="spacingAndGlyphs">TX-VK18</text>
<text class="v" x="96.1" y="343.10" text-anchor="middle" textLength="10.0" lengthAdjust="spacingAndGlyphs">50</text>
<text class="v" x="129.64" y="334.55" text-anchor="middle" textLength="22.1" lengthAdjust="spacingAndGlyphs">0,968</text>
<text class="s" x="129.84" y="350.65" text-anchor="middle" fill="#000" stroke="#000" stroke-width="0.25" textLength="4.4" lengthAdjust="spacingAndGlyphs">F</text>
<text class="v" x="165.46" y="334.55" text-anchor="middle" textLength="17.1" lengthAdjust="spacingAndGlyphs">1,18</text>
<text class="s" x="165.66" y="350.65" text-anchor="middle" fill="#000" stroke="#000" stroke-width="0.25" textLength="4.4" lengthAdjust="spacingAndGlyphs">F</text>
<text class="v" x="201.28" y="334.55" text-anchor="middle" textLength="17.1" lengthAdjust="spacingAndGlyphs">1,37</text>
<text class="s" x="201.48" y="350.65" text-anchor="middle" fill="#000" stroke="#000" stroke-width="0.25" textLength="4.4" lengthAdjust="spacingAndGlyphs">F</text>
<text class="v" x="237.10" y="334.55" text-anchor="middle" textLength="17.1" lengthAdjust="spacingAndGlyphs">1,53</text>
<text class="s" x="237.30" y="350.65" text-anchor="middle" fill="#000" stroke="#000" stroke-width="0.25" textLength="4.4" lengthAdjust="spacingAndGlyphs">F</text>
<text class="v" x="272.92" y="334.55" text-anchor="middle" textLength="17.1" lengthAdjust="spacingAndGlyphs">1,67</text>
<text class="s" x="273.12" y="350.65" text-anchor="middle" fill="#000" stroke="#000" stroke-width="0.25" textLength="4.4" lengthAdjust="spacingAndGlyphs">F</text>
<text class="v" x="308.74" y="334.55" text-anchor="middle" textLength="17.1" lengthAdjust="spacingAndGlyphs">1,80</text>
<text class="s" x="308.74" y="350.55" text-anchor="middle" fill="#fff" textLength="9.8" lengthAdjust="spacingAndGlyphs">VF</text>
<text class="v" x="344.56" y="334.55" text-anchor="middle" textLength="17.1" lengthAdjust="spacingAndGlyphs">1,93</text>
<text class="s" x="344.56" y="350.55" text-anchor="middle" fill="#fff" textLength="9.8" lengthAdjust="spacingAndGlyphs">VF</text>
<text class="v" x="380.38" y="334.55" text-anchor="middle" textLength="17.1" lengthAdjust="spacingAndGlyphs">2,04</text>
<text class="s" x="380.38" y="350.55" text-anchor="middle" fill="#fff" textLength="9.8" lengthAdjust="spacingAndGlyphs">VF</text>
<text class="v" x="416.20" y="334.55" text-anchor="middle" textLength="17.1" lengthAdjust="spacingAndGlyphs">2,15</text>
<text class="s" x="416.20" y="350.55" text-anchor="middle" fill="#fff" textLength="9.8" lengthAdjust="spacingAndGlyphs">VF</text>
<text class="v" x="452.02" y="334.55" text-anchor="middle" textLength="17.1" lengthAdjust="spacingAndGlyphs">2,25</text>
<text class="s" x="452.02" y="350.55" text-anchor="middle" fill="#fff" textLength="9.8" lengthAdjust="spacingAndGlyphs">VF</text>
<text class="v" x="487.84" y="334.55" text-anchor="middle" textLength="17.1" lengthAdjust="spacingAndGlyphs">2,35</text>
<text class="s" x="487.84" y="350.55" text-anchor="middle" fill="#fff" textLength="9.8" lengthAdjust="spacingAndGlyphs">VF</text>
<text class="v" x="523.66" y="334.55" text-anchor="middle" textLength="17.1" lengthAdjust="spacingAndGlyphs">2,45</text>
<text class="s" x="523.66" y="350.55" text-anchor="middle" fill="#fff" textLength="9.8" lengthAdjust="spacingAndGlyphs">VF</text>
<text class="v" x="559.48" y="334.55" text-anchor="middle" textLength="17.1" lengthAdjust="spacingAndGlyphs">2,54</text>
<text class="s" x="559.48" y="350.55" text-anchor="middle" fill="#fff" textLength="9.8" lengthAdjust="spacingAndGlyphs">VF</text>
<text class="v" x="595.30" y="334.55" text-anchor="middle" textLength="17.1" lengthAdjust="spacingAndGlyphs">2,63</text>
<text class="s" x="595.30" y="350.55" text-anchor="middle" fill="#fff" textLength="9.8" lengthAdjust="spacingAndGlyphs">VF</text>
<text class="v" x="631.12" y="334.55" text-anchor="middle" textLength="17.1" lengthAdjust="spacingAndGlyphs">2,72</text>
<text class="s" x="631.12" y="350.55" text-anchor="middle" fill="#fff" textLength="9.8" lengthAdjust="spacingAndGlyphs">VF</text>
<text class="v" x="666.94" y="334.55" text-anchor="middle" textLength="17.1" lengthAdjust="spacingAndGlyphs">2,80</text>
<text class="s" x="666.94" y="350.55" text-anchor="middle" fill="#fff" textLength="9.8" lengthAdjust="spacingAndGlyphs">VF</text>
<text class="v" x="702.76" y="334.55" text-anchor="middle" textLength="17.1" lengthAdjust="spacingAndGlyphs">2,88</text>
<text class="s" x="702.76" y="350.55" text-anchor="middle" fill="#fff" textLength="9.8" lengthAdjust="spacingAndGlyphs">VF</text>
<text class="v" x="738.58" y="334.55" text-anchor="middle" textLength="17.1" lengthAdjust="spacingAndGlyphs">2,96</text>
<text class="s" x="738.58" y="350.55" text-anchor="middle" fill="#fff" textLength="9.8" lengthAdjust="spacingAndGlyphs">VF</text>
<text class="v" x="774.40" y="334.55" text-anchor="middle" textLength="17.1" lengthAdjust="spacingAndGlyphs">3,03</text>
<text class="s" x="774.40" y="350.55" text-anchor="middle" fill="#fff" textLength="9.8" lengthAdjust="spacingAndGlyphs">VF</text>
<text class="n" x="42.6" y="376.20" text-anchor="middle" fill="#000" stroke="#000" stroke-width="0.2" textLength="35.0" lengthAdjust="spacingAndGlyphs">TX-VK26</text>
<text class="v" x="96.1" y="376.10" text-anchor="middle" textLength="10.0" lengthAdjust="spacingAndGlyphs">50</text>
<text class="v" x="129.64" y="367.55" text-anchor="middle" textLength="17.1" lengthAdjust="spacingAndGlyphs">1,40</text>
<text class="s" x="129.84" y="383.65" text-anchor="middle" fill="#000" stroke="#000" stroke-width="0.25" textLength="4.4" lengthAdjust="spacingAndGlyphs">F</text>
<text class="v" x="165.46" y="367.55" text-anchor="middle" textLength="17.1" lengthAdjust="spacingAndGlyphs">1,71</text>
<text class="s" x="165.66" y="383.65" text-anchor="middle" fill="#000" stroke="#000" stroke-width="0.25" textLength="4.4" lengthAdjust="spacingAndGlyphs">F</text>
<text class="v" x="201.28" y="367.55" text-anchor="middle" textLength="17.1" lengthAdjust="spacingAndGlyphs">1,97</text>
<text class="s" x="201.48" y="383.65" text-anchor="middle" fill="#000" stroke="#000" stroke-width="0.25" textLength="4.4" lengthAdjust="spacingAndGlyphs">F</text>
<text class="v" x="237.10" y="367.55" text-anchor="middle" textLength="17.1" lengthAdjust="spacingAndGlyphs">2,20</text>
<text class="s" x="237.30" y="383.65" text-anchor="middle" fill="#000" stroke="#000" stroke-width="0.25" textLength="4.4" lengthAdjust="spacingAndGlyphs">F</text>
<text class="v" x="272.92" y="367.55" text-anchor="middle" textLength="17.1" lengthAdjust="spacingAndGlyphs">2,41</text>
<text class="s" x="273.12" y="383.65" text-anchor="middle" fill="#000" stroke="#000" stroke-width="0.25" textLength="4.4" lengthAdjust="spacingAndGlyphs">F</text>
<text class="v" x="308.74" y="367.55" text-anchor="middle" textLength="17.1" lengthAdjust="spacingAndGlyphs">2,60</text>
<text class="s" x="308.94" y="383.65" text-anchor="middle" fill="#000" stroke="#000" stroke-width="0.25" textLength="4.4" lengthAdjust="spacingAndGlyphs">F</text>
<text class="v" x="344.56" y="367.55" text-anchor="middle" textLength="17.1" lengthAdjust="spacingAndGlyphs">2,78</text>
<text class="s" x="344.56" y="383.55" text-anchor="middle" fill="#fff" textLength="9.8" lengthAdjust="spacingAndGlyphs">VF</text>
<text class="v" x="380.38" y="367.55" text-anchor="middle" textLength="17.1" lengthAdjust="spacingAndGlyphs">2,95</text>
<text class="s" x="380.38" y="383.55" text-anchor="middle" fill="#fff" textLength="9.8" lengthAdjust="spacingAndGlyphs">VF</text>
<text class="v" x="416.20" y="367.55" text-anchor="middle" textLength="17.1" lengthAdjust="spacingAndGlyphs">3,11</text>
<text class="s" x="416.20" y="383.55" text-anchor="middle" fill="#fff" textLength="9.8" lengthAdjust="spacingAndGlyphs">VF</text>
<text class="v" x="452.02" y="367.55" text-anchor="middle" textLength="17.1" lengthAdjust="spacingAndGlyphs">3,26</text>
<text class="s" x="452.02" y="383.55" text-anchor="middle" fill="#fff" textLength="9.8" lengthAdjust="spacingAndGlyphs">VF</text>
<text class="v" x="487.84" y="367.55" text-anchor="middle" textLength="17.1" lengthAdjust="spacingAndGlyphs">3,40</text>
<text class="s" x="487.84" y="383.55" text-anchor="middle" fill="#fff" textLength="9.8" lengthAdjust="spacingAndGlyphs">VF</text>
<text class="v" x="523.66" y="367.55" text-anchor="middle" textLength="17.1" lengthAdjust="spacingAndGlyphs">3,54</text>
<text class="s" x="523.66" y="383.55" text-anchor="middle" fill="#fff" textLength="9.8" lengthAdjust="spacingAndGlyphs">VF</text>
<text class="v" x="559.48" y="367.55" text-anchor="middle" textLength="17.1" lengthAdjust="spacingAndGlyphs">3,67</text>
<text class="s" x="559.48" y="383.55" text-anchor="middle" fill="#fff" textLength="9.8" lengthAdjust="spacingAndGlyphs">VF</text>
<text class="v" x="595.30" y="367.55" text-anchor="middle" textLength="17.1" lengthAdjust="spacingAndGlyphs">3,80</text>
<text class="s" x="595.30" y="383.55" text-anchor="middle" fill="#fff" textLength="9.8" lengthAdjust="spacingAndGlyphs">VF</text>
<text class="v" x="631.12" y="367.55" text-anchor="middle" textLength="17.1" lengthAdjust="spacingAndGlyphs">3,92</text>
<text class="s" x="631.12" y="383.55" text-anchor="middle" fill="#fff" textLength="9.8" lengthAdjust="spacingAndGlyphs">VF</text>
<text class="v" x="666.94" y="367.55" text-anchor="middle" textLength="17.1" lengthAdjust="spacingAndGlyphs">4,04</text>
<text class="s" x="666.94" y="383.55" text-anchor="middle" fill="#fff" textLength="9.8" lengthAdjust="spacingAndGlyphs">VF</text>
<text class="v" x="702.76" y="367.55" text-anchor="middle" textLength="17.1" lengthAdjust="spacingAndGlyphs">4,16</text>
<text class="s" x="702.76" y="383.55" text-anchor="middle" fill="#fff" textLength="9.8" lengthAdjust="spacingAndGlyphs">VF</text>
<text class="v" x="738.58" y="367.55" text-anchor="middle" textLength="17.1" lengthAdjust="spacingAndGlyphs">4,27</text>
<text class="s" x="738.58" y="383.55" text-anchor="middle" fill="#fff" textLength="9.8" lengthAdjust="spacingAndGlyphs">VF</text>
<text class="v" x="774.40" y="367.55" text-anchor="middle" textLength="17.1" lengthAdjust="spacingAndGlyphs">4,38</text>
<text class="s" x="774.40" y="383.55" text-anchor="middle" fill="#fff" textLength="9.8" lengthAdjust="spacingAndGlyphs">VF</text>
<g fill="none" stroke="#10161a" stroke-width="0.8" stroke-linecap="round" stroke-linejoin="round">
<path d="M33.4 25.7V17.9A9.45 4.4 0 0 1 52.3 17.9V25.7"/>
<path d="M34.4 17.6A8.45 3.7 0 0 1 51.3 17.6" stroke-width="0.6"/>
<ellipse cx="42.85" cy="17.6" rx="5.6" ry="2.6" stroke-width="0.6"/>
<ellipse cx="42.85" cy="17.6" rx="4.2" ry="1.9"/>
<path d="M33.4 19L38.5 23.1H47.2L52.3 19"/>
<path d="M34.2 18.5L38.7 22.2H47L51.5 18.5" stroke-width="0.5"/>
<path d="M38.5 23.1V27.9M47.2 23.1V27.9"/>
<path d="M33.4 25.7Q35.8 27.6 38.5 27.9H47.2Q49.9 27.6 52.3 25.7"/>
<path d="M33.7 26.7A9.15 2.6 0 0 0 52 26.7" stroke-width="0.65"/>
<path d="M33.7 26.4V39.6M52 26.4V39.6"/>
<path d="M33.7 39.5Q32.1 40.6 31.9 43.6A10.95 4.9 0 0 0 53.8 43.6Q53.6 40.6 52 39.5"/>
<path d="M32.1 42.3A10.75 4.8 0 0 0 53.6 42.3" stroke-width="0.6"/>
<path d="M32.7 41A10.15 4.5 0 0 0 53 41" stroke-width="0.6"/>
<path d="M33.7 39.7A9.15 3.7 0 0 0 52 39.7" stroke-width="0.6"/>
</g>
<circle cx="42.85" cy="17.6" r="0.45" fill="#10161a"/>
<g>
<path d="M87 20C82.1 26.5 82.1 35.2 87 41.7" fill="none" stroke="#0c0c0c" stroke-width="1.1" stroke-linecap="round"/>
<path d="M102.8 20C107.7 26.5 107.7 35.2 102.8 41.7" fill="none" stroke="#0c0c0c" stroke-width="1.1" stroke-linecap="round"/>
<ellipse cx="94.9" cy="36.9" rx="8" ry="3.1" fill="#9bb9cb" stroke="#10161a" stroke-width="0.7"/>
<path d="M86.9 36.9V37.9A8 3.1 0 0 0 102.9 37.9V36.9" fill="none" stroke="#10161a" stroke-width="0.6"/>
<ellipse cx="94.9" cy="38.6" rx="4" ry="1.3" fill="#3b4852" stroke="#10161a" stroke-width="0.4"/>
<path d="M89.3 22A5.6 1.2 0 0 1 100.5 22V34.4A5.6 1.4 0 0 1 89.3 34.4Z" fill="#48555f" stroke="#10161a" stroke-width="0.85"/>
<ellipse cx="94.9" cy="22" rx="5.6" ry="1.2" fill="#7d93a1" stroke="#10161a" stroke-width="0.6"/>
<path d="M91.3 25.2H98.5M91.3 27H98.5M91.3 28.8H98.5M91.3 30.6H98.5M91.3 32.4H98.5" stroke="#b4cbd8" stroke-width="0.75" fill="none"/>
</g>

<text class="f" y="404.3"><tspan class="b" x="8.70" textLength="40.60" lengthAdjust="spacingAndGlyphs">Hinweis:</tspan> <tspan x="51.20" textLength="26.10" lengthAdjust="spacingAndGlyphs">Druck</tspan> <tspan x="79.70" textLength="10.10" lengthAdjust="spacingAndGlyphs">an</tspan> <tspan x="92.90" textLength="12.90" lengthAdjust="spacingAndGlyphs">der</tspan> <tspan x="109.20" textLength="26.10" lengthAdjust="spacingAndGlyphs">Düse;</tspan> <tspan x="137.50" textLength="58.30" lengthAdjust="spacingAndGlyphs">Tabellenwert</tspan> <tspan x="199.50" textLength="25.60" lengthAdjust="spacingAndGlyphs">durch</tspan> <tspan x="227.70" textLength="39.60" lengthAdjust="spacingAndGlyphs">Auslitern</tspan> <tspan x="270.90" textLength="30.90" lengthAdjust="spacingAndGlyphs">prüfen.</tspan> <tspan x="305.50" textLength="76.80" lengthAdjust="spacingAndGlyphs">Ausbringmengen</tspan> <tspan x="385.90" textLength="28.40" lengthAdjust="spacingAndGlyphs">gelten</tspan> <tspan x="417.90" textLength="10.90" lengthAdjust="spacingAndGlyphs">für</tspan> <tspan x="431.70" textLength="31.10" lengthAdjust="spacingAndGlyphs">Wasser</tspan> <tspan x="465.90" textLength="23.40" lengthAdjust="spacingAndGlyphs">(21°C</tspan> <tspan x="491.90" textLength="3.90" lengthAdjust="spacingAndGlyphs">/</tspan> <tspan x="498.20" textLength="10.60" lengthAdjust="spacingAndGlyphs">70</tspan> <tspan x="511.70" textLength="13.60" lengthAdjust="spacingAndGlyphs">°F).</tspan></text>
<text class="f" y="416.2"><tspan x="8.20" textLength="34.10" lengthAdjust="spacingAndGlyphs">Weitere</tspan> <tspan x="45.50" textLength="46.80" lengthAdjust="spacingAndGlyphs">technische</tspan> <tspan x="95.90" textLength="64.90" lengthAdjust="spacingAndGlyphs">Informationen</tspan> <tspan x="163.70" textLength="16.60" lengthAdjust="spacingAndGlyphs">und</tspan> <tspan x="183.70" textLength="40.10" lengthAdjust="spacingAndGlyphs">nützliche</tspan> <tspan x="227.50" textLength="35.80" lengthAdjust="spacingAndGlyphs">Formeln</tspan> <tspan x="266.20" textLength="14.10" lengthAdjust="spacingAndGlyphs">s.S.</tspan> <tspan x="284.20" textLength="39.10" lengthAdjust="spacingAndGlyphs">136–157.</tspan></text>
</svg></body></html>
